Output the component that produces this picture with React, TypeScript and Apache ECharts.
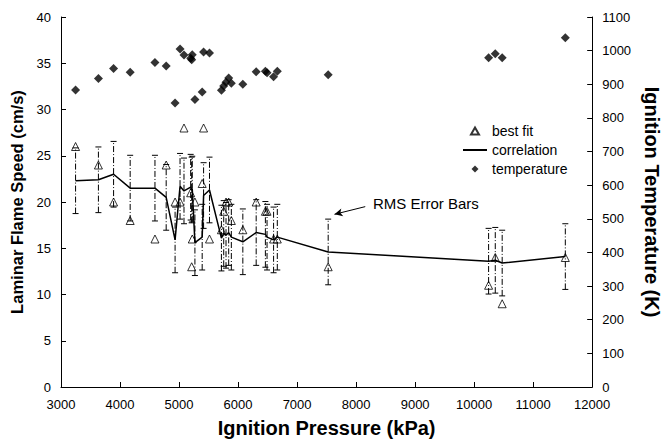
import React, { useEffect, useRef } from "react";
import * as echarts from "echarts";

// Ignition pressure (kPa) for each experiment
const pressure = [3247, 3634, 3891, 4172, 4592, 4782, 4933, 5017, 5084, 5197, 5214, 5224, 5269, 5392, 5416, 5516, 5718, 5757, 5796, 5841, 5886, 6081, 6307, 6463, 6491, 6602, 6665, 7527, 10245, 10358, 10475, 11545];
// Best-fit laminar flame speed (cm/s)
const bestFit = [26, 24, 20, 18, 16, 24, 20, 20, 28, 21, 13, 16, 20, 22, 28, 16, 17, 19, 20, 20, 18, 17, 20, 19, 19, 16, 16, 13, 11, 14, 9, 14];
// Correlation flame speed (cm/s)
const correlation = [22.3, 22.4, 23.0, 21.5, 21.5, 20.5, 15.9, 21.7, 21.2, 21.6, 21.3, 21.4, 15.6, 16.2, 20.7, 21.3, 16.1, 16.6, 16.4, 16.7, 16.2, 15.7, 16.7, 16.5, 16.2, 15.9, 16.2, 14.6, 13.6, 13.7, 13.4, 14.1];
// Ignition temperature (K)
const temperature = [883, 917, 947, 936, 965, 954, 844, 1005, 987, 977, 973, 988, 855, 877, 996, 993, 882, 895, 906, 919, 903, 900, 937, 939, 934, 922, 939, 928, 979, 991, 979, 1038];
// RMS error of the correlation (cm/s)
const rmsError = 3.55;

const FONT = 'Arial, "Liberation Sans", sans-serif';

export default function App() {
  const ref = useRef<HTMLDivElement>(null);
  useEffect(() => {
    if (!ref.current) return;
    const chart = echarts.init(ref.current, undefined, { renderer: "svg" });
    const axisLine = { show: true, lineStyle: { color: "#000", width: 1 } };
    const axisLabel = { color: "#000", fontSize: 13, fontFamily: FONT, formatter: (v: number) => String(v) };
    const nameStyle = (size: number) => ({ color: "#000", fontSize: size, fontWeight: "bold" as const, fontFamily: FONT });
    const tick = { show: true, inside: true, length: 5, lineStyle: { color: "#000" } };
    chart.setOption({
      animation: false,
      backgroundColor: "#fff",
      grid: { left: 61, right: 73, top: 17, bottom: 53, containLabel: false },
      legend: {
        orient: "vertical",
        left: 462,
        top: 124,
        padding: 0,
        itemWidth: 24,
        itemHeight: 7,
        itemGap: 5,
        symbolKeepAspect: true,
        textStyle: { color: "#000", fontSize: 14, fontFamily: FONT },
        data: [
          { name: "best fit", icon: "path://M4,0 L8,7 L0,7 Z" },
          { name: "correlation", itemStyle: { opacity: 0 } },
          { name: "temperature", icon: "path://M4,0 L8,4 L4,8 L0,4 Z" },
        ],
      },
      xAxis: {
        type: "value",
        min: 3000,
        max: 12000,
        interval: 1000,
        axisLine,
        axisTick: tick,
        axisLabel: { ...axisLabel, margin: 11 },
        splitLine: { show: false },
        name: "Ignition Pressure (kPa)",
        nameLocation: "middle",
        nameGap: 31,
        nameTextStyle: nameStyle(20),
      },
      yAxis: [
        {
          type: "value",
          position: "left",
          min: 0,
          max: 40,
          interval: 5,
          axisLine,
          axisTick: tick,
          axisLabel: { ...axisLabel, margin: 10 },
          splitLine: { show: false },
          name: "Laminar Flame Speed (cm/s)",
          nameLocation: "middle",
          nameGap: 31,
          nameTextStyle: nameStyle(16.5),
        },
        {
          type: "value",
          position: "right",
          min: 0,
          max: 1100,
          interval: 100,
          axisLine,
          axisTick: tick,
          axisLabel: { ...axisLabel, margin: 10 },
          splitLine: { show: false },
          name: "Ignition Temperature (K)",
          nameLocation: "middle",
          nameRotate: -90,
          nameGap: 44,
          nameTextStyle: nameStyle(20),
        },
      ],
      graphic: [
        {
          type: "text",
          left: 373,
          top: 196,
          style: { text: "RMS Error Bars", fontSize: 15, fontFamily: FONT, fill: "#000" },
        },
      ],
      series: [
        {
          name: "error",
          type: "custom",
          yAxisIndex: 0,
          encode: { x: 0, y: [1, 2] },
          data: pressure.map((p, i) => [p, correlation[i] - rmsError, correlation[i] + rmsError]),
          renderItem: (params: any, api: any) => {
            const x = api.value(0);
            const lo = api.coord([x, api.value(1)]);
            const hi = api.coord([x, api.value(2)]);
            const cap = 3;
            const style = { stroke: "#000", lineWidth: 1 };
            return {
              type: "group",
              children: [
                { type: "line", shape: { x1: lo[0], y1: lo[1], x2: hi[0], y2: hi[1] }, style: { ...style, lineDash: [6, 2, 1, 2] } },
                { type: "line", shape: { x1: hi[0] - cap, y1: hi[1], x2: hi[0] + cap, y2: hi[1] }, style },
                { type: "line", shape: { x1: lo[0] - cap, y1: lo[1], x2: lo[0] + cap, y2: lo[1] }, style },
              ],
            };
          },
          z: 1,
        },
        {
          name: "correlation",
          type: "line",
          yAxisIndex: 0,
          symbol: "none",
          data: pressure.map((p, i) => [p, correlation[i]]),
          lineStyle: { color: "#000", width: 1.5 },
          itemStyle: { color: "#000" },
          z: 2,
          markLine: {
            silent: true,
            symbol: ["none", "arrow"],
            symbolSize: [6, 8],
            lineStyle: { color: "#000", width: 1, type: "solid" },
            label: { show: false },
            data: [[{ coord: [8155, 19.5] }, { coord: [7634, 18.67] }]],
          },
        },
        {
          name: "best fit",
          type: "scatter",
          yAxisIndex: 0,
          symbol: "triangle",
          symbolSize: 8,
          data: pressure.map((p, i) => [p, bestFit[i]]),
          itemStyle: { color: "rgba(255,255,255,0)", borderColor: "#000", borderWidth: 1 },
          z: 3,
        },
        {
          name: "temperature",
          type: "scatter",
          yAxisIndex: 1,
          symbol: "diamond",
          symbolSize: 9,
          data: pressure.map((p, i) => [p, temperature[i]]),
          itemStyle: { color: "#000" },
          z: 3,
        },
      ],
    });
    return () => chart.dispose();
  }, []);
  return (
    <div
      ref={ref}
      style={{ position: "fixed", left: 0, top: 0, width: 670, height: 443, background: "#fff" }}
    />
  );
}
